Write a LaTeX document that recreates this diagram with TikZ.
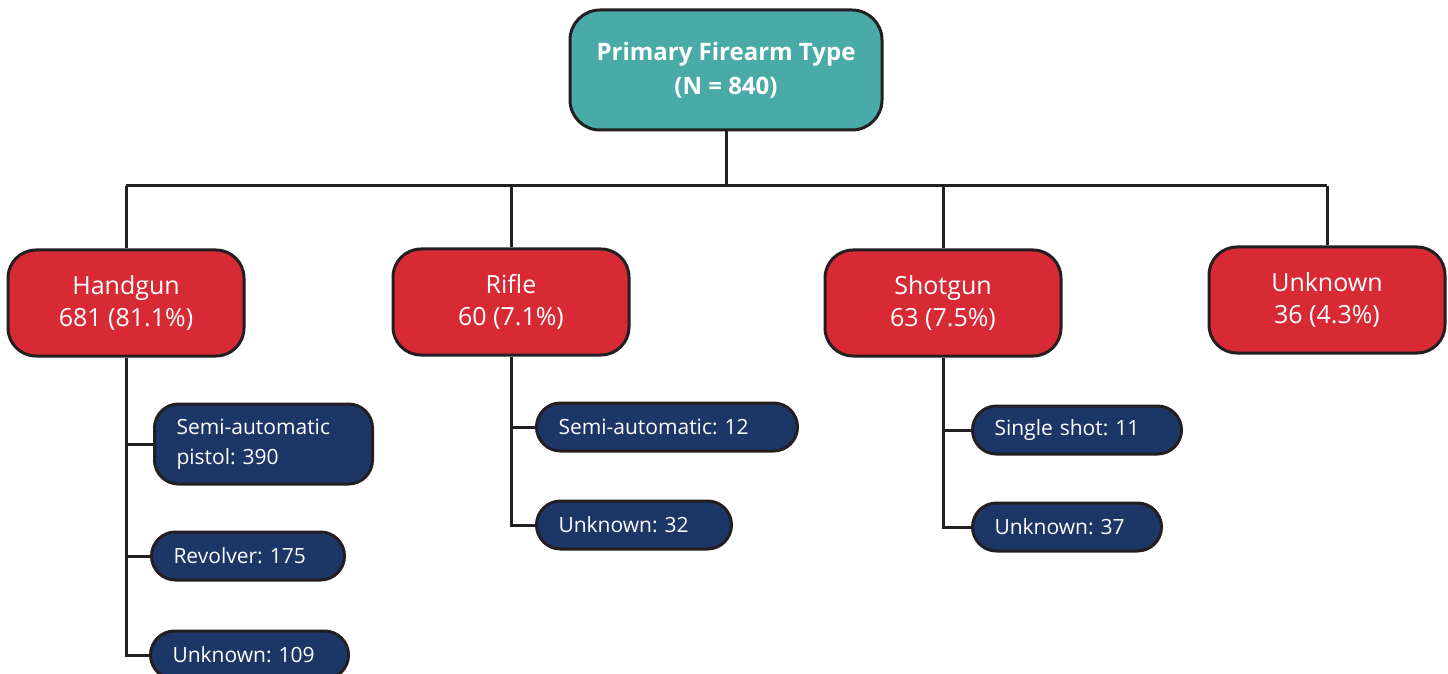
\documentclass[tikz,border=0pt]{standalone}
\usepackage{fontspec}
\setmainfont{Open Sans}
\definecolor{rootteal}{HTML}{4AAAA8}
\definecolor{typered}{HTML}{D82A35}
\definecolor{subblue}{HTML}{1D3668}
\definecolor{linegray}{HTML}{231F20}
\frenchspacing
\begin{document}
\begin{tikzpicture}[x=0.5pt,y=-0.5pt,
    rootbox/.style={draw=linegray, line width=1.5pt, fill=rootteal, rounded corners=15pt,
      minimum width=156pt, minimum height=60pt, text=white, align=center,
      font=\bfseries\fontsize{12}{17}\selectfont},
    typebox/.style={draw=linegray, line width=1.5pt, fill=typered, rounded corners=14pt,
      minimum width=118pt, minimum height=53pt, text=white, align=center,
      font=\fontsize{12.5}{16}\selectfont},
    subbox/.style={draw=linegray, line width=1.5pt, fill=subblue, rounded corners=12pt,
      minimum height=24pt, inner xsep=11pt, anchor=west, text=white, align=left,
      font=\fontsize{10.5}{15}\selectfont},
    link/.style={draw=linegray, line width=1.5pt}]
  \useasboundingbox (0,0) rectangle (1448,674);
  % Root and bus line
  \node[rootbox] (root) at (726,70) {Primary Firearm Type\\(N = 840)};
  \coordinate (bus) at (726,186);
  % Firearm types
  \node[typebox] (hand) at (126,303) {Handgun\\681 (81.1\%)};
  \node[typebox] (rifle) at (511,302) {Rifle\\60 (7.1\%)};
  \node[typebox] (shot) at (943,303) {Shotgun\\63 (7.5\%)};
  \node[typebox] (unk) at (1327,300) {Unknown\\36 (4.3\%)};
  % Subtypes
  \node[subbox, text width=87pt, minimum height=40pt] (handsemi) at (153,444) {Semi-automatic\\pistol: 390};
  \node[subbox, text width=74.5pt] (handrev) at (150,556) {Revolver: 175};
  \node[subbox, text width=77pt] (handunk) at (149,655) {Unknown: 109};
  \node[subbox, text width=108.5pt] (riflesemi) at (535,427) {Semi-automatic: 12};
  \node[subbox, text width=75.5pt] (rifleunk) at (535,525) {Unknown: 32};
  \node[subbox, text width=82.5pt] (shotsingle) at (971,430) {Single shot: 11};
  \node[subbox, text width=72.5pt] (shotunk) at (971,527) {Unknown: 37};
  % Connectors from the root
  \draw[link] (root.south) -- (bus);
  \draw[link] (hand.north |- bus) -- (unk.north |- bus);
  \foreach \t in {hand,rifle,shot,unk}
    \draw[link] (\t.north) -- (\t.north |- bus);
  % Connectors to the subtypes
  \draw[link] (hand.south) |- (handunk.west);
  \draw[link] (hand.south |- handsemi.west) -- (handsemi.west);
  \draw[link] (hand.south |- handrev.west) -- (handrev.west);
  \draw[link] (rifle.south) |- (rifleunk.west);
  \draw[link] (rifle.south |- riflesemi.west) -- (riflesemi.west);
  \draw[link] (shot.south) |- (shotunk.west);
  \draw[link] (shot.south |- shotsingle.west) -- (shotsingle.west);
\end{tikzpicture}
\end{document}
